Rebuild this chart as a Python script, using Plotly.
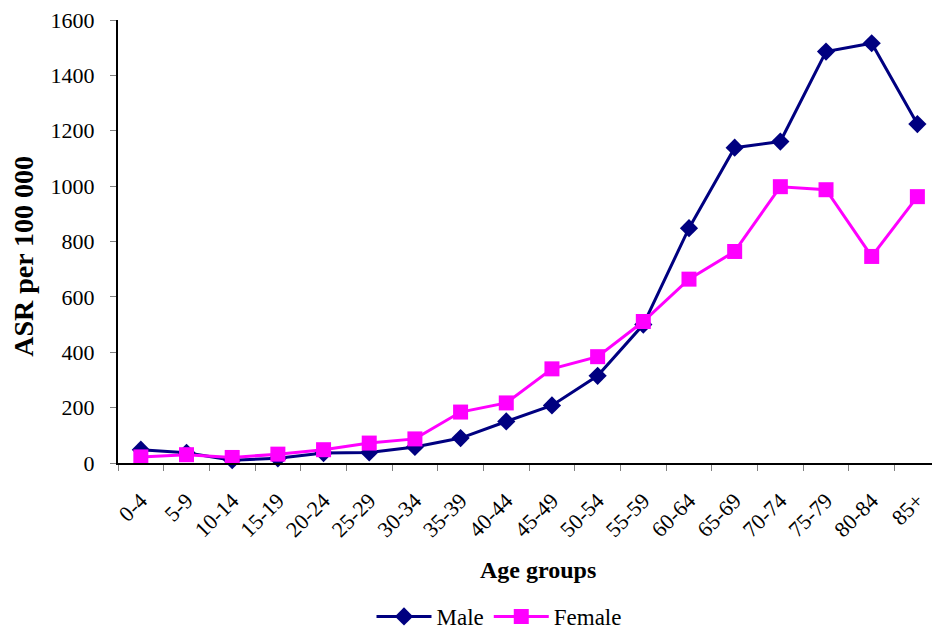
import plotly.graph_objects as go

age_groups = ["0-4", "5-9", "10-14", "15-19", "20-24", "25-29", "30-34", "35-39", "40-44",
              "45-49", "50-54", "55-59", "60-64", "65-69", "70-74", "75-79", "80-84", "85+"]
male = [48, 37, 10, 17, 36, 38, 58, 90, 150, 208, 315, 500, 848, 1139, 1161, 1486, 1516, 1224]
female = [22, 30, 20, 32, 48, 72, 87, 184, 217, 340, 384, 511, 664, 764, 998, 987, 746, 962]
y_ticks = [0, 200, 400, 600, 800, 1000, 1200, 1400, 1600]

FONT = "Liberation Serif"

fig = go.Figure()
fig.add_trace(go.Scatter(
    x=age_groups, y=male, name="Male", mode="lines+markers",
    line=dict(color="#000080", width=3),
    marker=dict(symbol="diamond", size=14, color="#000080"),
    cliponaxis=False,
))
fig.add_trace(go.Scatter(
    x=age_groups, y=female, name="Female", mode="lines+markers",
    line=dict(color="#FF00FF", width=3),
    marker=dict(symbol="square", size=15, color="#FF00FF"),
    cliponaxis=False,
))

fig.update_layout(
    width=932, height=638,
    margin=dict(l=118, r=0, t=20, b=175),
    paper_bgcolor="white", plot_bgcolor="white",
    font=dict(family=FONT, size=22, color="black"),
    showlegend=True,
    legend=dict(orientation="h", xref="container", yref="container",
                x=499 / 932, xanchor="center", y=-0.012, yanchor="bottom",
                itemwidth=55, font=dict(family=FONT, size=23), tracegroupgap=0),
    xaxis=dict(
        type="category", range=[-0.5, 17.32], automargin=False,
        showline=True, linecolor="black", linewidth=2,
        ticks="outside", tickson="boundaries", ticklen=6, tickcolor="#808080",
        tickangle=-45, showgrid=False, zeroline=False, ticklabelstandoff=14,
        tickfont=dict(family=FONT, size=22),
    ),
    yaxis=dict(
        range=[0, 1600], tickvals=y_ticks, automargin=False,
        showline=True, linecolor="black", linewidth=2,
        ticks="outside", ticklen=6, tickcolor="#808080",
        showgrid=False, zeroline=False, ticklabelstandoff=11,
        tickfont=dict(family=FONT, size=22),
    ),
    annotations=[
        dict(text="<b>Age groups</b>", xref="paper", yref="paper",
             x=(538 - 118) / 814, y=(463.3 - 570) / 443.3,
             xanchor="center", yanchor="middle", showarrow=False,
             font=dict(family=FONT, size=24)),
        dict(text="<b>ASR per 100 000</b>", xref="paper", yref="paper",
             x=(24 - 118) / 814, y=(463.3 - 257) / 443.3, textangle=-90,
             xanchor="center", yanchor="middle", showarrow=False,
             font=dict(family=FONT, size=28)),
    ],
)

fig.write_html(
    "out.html",
    post_script="document.body.style.margin='0';document.documentElement.style.overflow='hidden';document.body.style.overflow='hidden';",
    config={"displayModeBar": False},
)
